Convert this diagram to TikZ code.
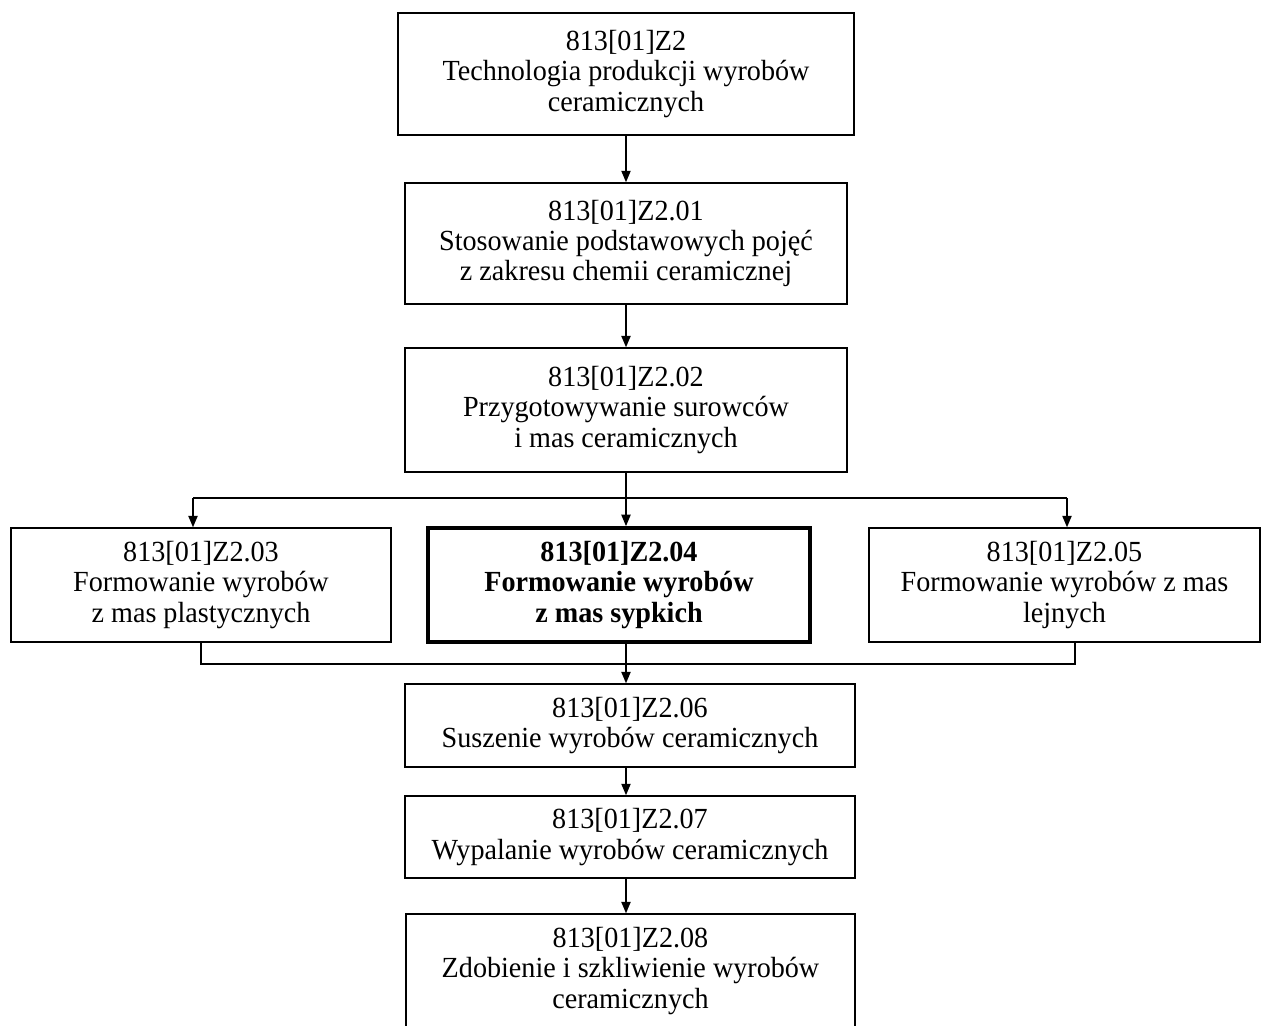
\documentclass[tikz,border=0pt]{standalone}
\usepackage{fontspec}
\setmainfont{Liberation Serif}[FakeStretch=0.965]
\usetikzlibrary{arrows.meta}

\begin{document}
\begin{tikzpicture}[x=0.48pt, y=-0.48pt,
		modul/.style={draw, line width=0.7pt, rectangle, inner sep=0pt, align=center,
			font=\fontsize{14}{14.6}\selectfont},
		glowny/.style={modul, line width=1.8pt, font=\fontsize{14}{14.6}\selectfont\bfseries},
		strz/.style={line width=0.8pt, -{Triangle[length=5.5pt,width=4.4pt]}},
		linia/.style={line width=0.8pt}]
			%%%%% START %%%%%
			
			\clip (0, 0) rectangle (1270, 1025);
			
			\node[modul, minimum width=218.9pt, minimum height=58.6pt] (z2) at (626, 74)
				{813[01]Z2\\Technologia produkcji wyrobów\\ceramicznych};
			\node[modul, minimum width=212.2pt, minimum height=58.1pt] (z201) at (626, 243.5)
				{813[01]Z2.01\\Stosowanie podstawowych pojęć\\z zakresu chemii ceramicznej};
			\node[modul, minimum width=212.2pt, minimum height=59.5pt] (z202) at (626, 410)
				{813[01]Z2.02\\Przygotowywanie surowców\\i mas ceramicznych};
			
			\node[modul, minimum width=182.4pt, minimum height=54.7pt] (z203) at (201, 585)
				{813[01]Z2.03\\Formowanie wyrobów\\z mas plastycznych};
			\node[glowny, minimum width=183.4pt, minimum height=54.7pt] (z204) at (619, 585)
				{813[01]Z2.04\\Formowanie wyrobów\\z mas sypkich};
			\node[modul, minimum width=187.7pt, minimum height=54.7pt] (z205) at (1064.5, 585)
				{813[01]Z2.05\\Formowanie wyrobów z mas\\lejnych};
			
			\node[modul, minimum width=216pt, minimum height=39.8pt] (z206) at (630, 725.5)
				{813[01]Z2.06\\Suszenie wyrobów ceramicznych};
			\node[modul, minimum width=216pt, minimum height=39.4pt] (z207) at (630, 837)
				{813[01]Z2.07\\Wypalanie wyrobów ceramicznych};
			\node[modul, minimum width=215.5pt, minimum height=54.7pt] (z208) at (630.5, 971)
				{813[01]Z2.08\\Zdobienie i szkliwienie wyrobów\\ceramicznych};
			
			\coordinate (rozg) at (626, 498);
			\coordinate (rozgL) at (193, 498);
			\coordinate (rozgP) at (1067, 498);
			\coordinate (zbiorL) at (201, 664);
			\coordinate (zbiorP) at (1075, 664);
			
			\draw[strz] (z2.south) -- (z201.north);
			\draw[strz] (z201.south) -- (z202.north);
			
			\draw[linia] (z202.south) -- (rozg);
			\draw[linia] (rozgL) -- (rozgP);
			\draw[strz] (rozgL) -- (rozgL |- z203.north);
			\draw[strz] (rozg) -- (rozg |- z204.north);
			\draw[strz] (rozgP) -- (rozgP |- z205.north);
			
			\draw[linia] (zbiorL |- z203.south) -- (zbiorL) -- (zbiorP) -- (zbiorP |- z205.south);
			\draw[strz] (z204.south -| rozg) -- (z206.north -| rozg);
			
			\draw[strz] (z206.south -| rozg) -- (z207.north -| rozg);
			\draw[strz] (z207.south -| rozg) -- (z208.north -| rozg);
			
			%%%%% END %%%%%
		\end{tikzpicture}
\end{document}
